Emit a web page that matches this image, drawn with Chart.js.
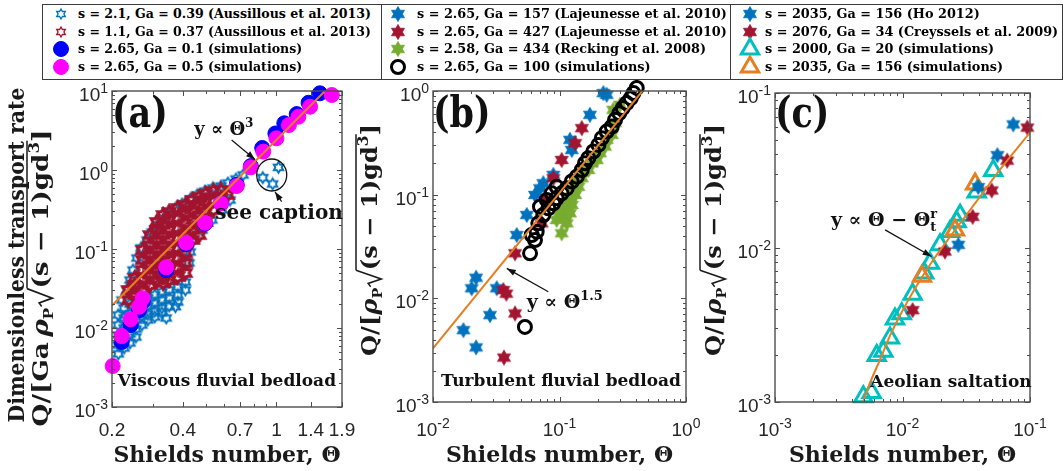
<!DOCTYPE html>
<html>
<head>
<meta charset="utf-8">
<script src="https://cdn.jsdelivr.net/npm/chart.js@4.4.1/dist/chart.umd.min.js"></script>
<style>
  html, body { margin: 0; padding: 0; background: #fff; }
  #fig { position: relative; width: 1064px; height: 471px; overflow: hidden; background: #fff; }
  #fig canvas.panel { position: absolute; top: 80px; }
  .lbox { position: absolute; top: 4px; height: 76px; border: 1.5px solid #3c3c3c; box-sizing: border-box; }
  .ltext { position: absolute; white-space: nowrap; font: bold 13px "DejaVu Serif", serif; line-height: 16px; color: #000; transform-origin: 0 50%; }
  .lmark { position: absolute; }
</style>
</head>
<body>
<div id="fig">
  <canvas id="panelA" class="panel" width="365" height="391" style="left:0px"></canvas>
  <canvas id="panelB" class="panel" width="365" height="391" style="left:350px"></canvas>
  <canvas id="panelC" class="panel" width="374" height="391" style="left:690px"></canvas>
</div>
<script>
// ===================== DATA (a) viscous fluvial bedload =====================
// Aussillous et al. 2013, s = 2.1, Ga = 0.39 (open blue hexagrams)
const aussillous21 = [
  [0.2455,0.0542],[0.2385,0.0405],[0.2316,0.0303],[0.2553,0.0769],[0.2655,0.103],[0.2818,0.130],
  [0.296,0.164],[0.314,0.201],[0.330,0.240],[0.349,0.277],[0.370,0.321],[0.397,0.371],[0.430,0.430],
  [0.460,0.483],[0.497,0.542],[0.537,0.592],[0.581,0.627],[0.622,0.684],[0.673,0.769],[0.721,0.865],
  [0.635,0.417],[0.588,0.312],[0.532,0.233],[0.483,0.174],[0.438,0.130],[0.430,0.0917],[0.425,0.0665],
  [1.02,1.08],[0.875,0.80],[0.964,0.665],
  [0.2123,0.01462],[0.2123,0.01091],[0.2123,0.00815],[0.2123,0.00609],[0.2127,0.0047],
  [0.225,0.0179],[0.225,0.0134],[0.225,0.0100],[0.225,0.00747],[0.225,0.00558],[0.2205,0.0226],
  [0.2385,0.0201],[0.2385,0.01503],[0.2385,0.01124],[0.2385,0.0084],[0.2385,0.00646],
  [0.2528,0.0213],[0.2528,0.0164],[0.2528,0.01263],[0.2528,0.0097],[0.2528,0.00769],
  [0.268,0.0226],[0.268,0.0179],[0.268,0.01418],[0.268,0.01091],
  [0.284,0.024],[0.284,0.019],[0.284,0.01503],[0.284,0.01263],
  [0.304,0.0262],[0.304,0.0207],[0.304,0.0164],[0.304,0.01378],
  [0.326,0.0286],[0.326,0.0226],[0.326,0.0179],[0.326,0.0155],
  [0.350,0.0303],[0.350,0.024],[0.350,0.019],[0.340,0.0134],[0.372,0.0186],
  [0.381,0.033],[0.381,0.0262],[0.381,0.0213],[0.410,0.0382],[0.410,0.0303]
];
// Aussillous et al. 2013, s = 1.1, Ga = 0.37 (open red hexagrams)
const aussillous11 = [
  [0.235,0.0303],[0.235,0.0226],
  [0.25,0.043],[0.25,0.035],[0.25,0.0262],
  [0.27,0.097],[0.27,0.0726],[0.27,0.0542],[0.27,0.0405],[0.27,0.0303],
  [0.29,0.150],[0.29,0.112],[0.29,0.0839],[0.29,0.0627],[0.29,0.0469],[0.29,0.035],
  [0.31,0.22],[0.31,0.174],[0.31,0.130],[0.31,0.097],[0.31,0.0726],[0.31,0.0542],[0.31,0.0405],
  [0.33,0.269],[0.33,0.201],[0.33,0.150],[0.33,0.112],[0.33,0.0839],[0.33,0.0627],[0.33,0.0469],[0.33,0.0372],
  [0.35,0.294],[0.35,0.233],[0.35,0.174],[0.35,0.130],[0.35,0.097],[0.35,0.0726],[0.35,0.0542],[0.35,0.0405],
  [0.38,0.33],[0.38,0.247],[0.38,0.184],[0.38,0.138],[0.38,0.103],[0.38,0.0769],[0.38,0.0574],[0.38,0.0442],
  [0.41,0.36],[0.41,0.286],[0.41,0.213],[0.41,0.159],[0.41,0.119],[0.41,0.0889],[0.41,0.0665],[0.41,0.0497],
  [0.44,0.417],[0.44,0.312],[0.44,0.233],[0.44,0.174],[0.44,0.130],
  [0.47,0.455],[0.47,0.36],[0.47,0.269],[0.47,0.201],[0.47,0.150],
  [0.50,0.497],[0.50,0.393],[0.50,0.294],[0.50,0.22],
  [0.54,0.542],[0.54,0.417],[0.54,0.312],
  [0.58,0.558],[0.58,0.43],
  [0.62,0.483]
];
// simulations s = 2.65, Ga = 0.1
const simGa01 = [
  [0.22,0.00665],[0.24,0.0109],[0.261,0.0169],[0.27,0.0214],[0.34,0.054],[0.413,0.115],[0.497,0.21],
  [0.581,0.38],[0.678,0.65],[0.778,1.12],[0.87,1.9],[0.99,2.9],[1.08,3.9],[1.22,5.1],[1.37,7.1],[1.53,9.35]
];
// simulations s = 2.65, Ga = 0.5
const simGa05 = [
  [0.2013,0.0033],[0.22,0.0079],[0.24,0.0129],[0.261,0.0186],[0.27,0.0238],[0.34,0.0586],[0.413,0.120],
  [0.497,0.215],[0.581,0.378],[0.678,0.627],[0.778,1.08],[0.879,1.71],[1.0,2.52],[1.13,3.71],[1.24,4.73],
  [1.39,6.32],[1.72,8.9]
];
const fitA = [[0.2, 0.0193], [1.64, 10.6]];          // y ~ Theta^3
const xTicksA = [0.2, 0.4, 0.7, 1, 1.4, 1.9];
const xTickTextA = ['0.2', '0.4', '0.7', '1', '1.4', '1.9'];
const yDecA = [-3, -2, -1, 0, 1];

// ===================== DATA (b) turbulent fluvial bedload =====================
const lajeunesse157 = [
  [0.222,0.954],[0.236,0.919],[0.174,0.589],[0.121,0.338],[0.125,0.270],[0.0894,0.155],[0.0744,0.129],
  [0.0701,0.115],[0.064,0.0993],[0.0551,0.0637],[0.0459,0.0408],[0.0219,0.0158],[0.0202,0.0125],
  [0.0319,0.0125],[0.0282,0.00688],[0.0174,0.00493],[0.0219,0.00336]
];
const lajeunesse427 = [
  [0.150,0.438],[0.133,0.314],[0.104,0.216],[0.0894,0.144],[0.0793,0.0889],[0.0722,0.0529],[0.0445,0.0272],
  [0.036,0.012],[0.038,0.0111],[0.0445,0.00714],[0.0364,0.00268]
];
const recking = [
  [0.104,0.0424],[0.095,0.057],[0.107,0.0613],[0.101,0.0685],[0.114,0.0711],[0.110,0.0826],[0.125,0.0795],
  [0.121,0.0957],[0.133,0.0993],[0.129,0.115],[0.141,0.119],[0.137,0.139],[0.150,0.144],[0.154,0.167],
  [0.169,0.173],[0.180,0.201],[0.197,0.216],[0.209,0.251],[0.191,0.233],[0.229,0.291],[0.236,0.338],
  [0.259,0.377],[0.275,0.490],[0.266,0.658],[0.301,0.735],[0.114,0.0529],[0.121,0.0661]
];
const simGa100 = [
  [0.0585,0.0272],[0.0603,0.0408],[0.064,0.0365],[0.066,0.044],[0.068,0.0529],[0.0701,0.0766],[0.0744,0.0637],
  [0.0793,0.0889],[0.0816,0.0738],[0.0867,0.103],[0.0894,0.0826],[0.095,0.0923],[0.095,0.119],[0.104,0.103],
  [0.114,0.115],[0.125,0.134],[0.137,0.149],[0.150,0.173],[0.159,0.201],[0.169,0.225],[0.185,0.261],
  [0.203,0.302],[0.216,0.351],[0.236,0.406],[0.259,0.454],[0.275,0.527],[0.297,0.611],[0.316,0.684],
  [0.340,0.764],[0.366,0.853],[0.384,0.954],[0.408,1.07],[0.0533,0.0053]
];
const fitB = [[0.01, 0.0033], [0.47, 1.06]];         // y ~ Theta^1.5
const yDecB = [-3, -2, -1, 0];
const xDecB = [-2, -1, 0];

// ===================== DATA (c) aeolian saltation =====================
const ho2012 = [[0.0739,0.0626],[0.0555,0.0396],[0.0393,0.0246],[0.0274,0.0104]];
const creyssels = [[0.0953,0.0597],[0.0663,0.0365],[0.0501,0.0234],[0.0355,0.0158],[0.0215,0.00942],[0.0120,0.00393]];
const simS2000 = [
  [0.00493,0.00108],[0.00573,0.00115],[0.00628,0.0020],[0.00708,0.00213],[0.00798,0.0026],[0.00873,0.00344],
  [0.00986,0.00373],[0.0120,0.00498],[0.0148,0.00684],[0.0164,0.00792],[0.0197,0.0104],[0.0236,0.0127],
  [0.0266,0.0147],[0.0283,0.0162],[0.0382,0.0229],[0.0515,0.0315]
];
const simS2035 = [[0.0371,0.0258],[0.0258,0.0130],[0.0142,0.00652]];
const fitC = [[0.0049,0.001],[0.0055,0.0013],[0.0067,0.0019],[0.008,0.0027],[0.01,0.0039],[0.0135,0.006],
  [0.0174,0.0083],[0.025,0.0125],[0.04,0.021],[0.06,0.033],[0.1,0.0555]];   // y ~ Theta - Theta_t^r
const yDecC = [-3, -2, -1];
const xDecC = [-3, -2, -1];

// ===================== styles =====================
const SERIF = '"DejaVu Serif", "Liberation Serif", serif';
const SANS = '"Liberation Sans", Arial, Helvetica, sans-serif';
const AXIS = '#4d4d4d';
const TXT = '#262626';
const C_BLUE = '#0072BD', C_RED = '#A2142F', C_GREEN = '#77AC30';
const C_ORANGE = '#E67E22', C_CYAN = '#00BFBF';

function hexagram(color, r, filled, lw) {
  const s = Math.ceil(2 * r + lw + 2);
  const c = document.createElement('canvas');
  c.width = c.height = s;
  const g = c.getContext('2d');
  g.translate(s / 2, s / 2);
  g.beginPath();
  for (let i = 0; i < 12; i++) {
    const a = -Math.PI / 2 + i * Math.PI / 6;
    const rr = i % 2 ? r / Math.sqrt(3) : r;
    g.lineTo(rr * Math.cos(a), rr * Math.sin(a));
  }
  g.closePath();
  if (filled) { g.fillStyle = color; g.fill(); }
  g.lineJoin = 'miter';
  g.lineWidth = lw; g.strokeStyle = color; g.stroke();
  return c;
}

const openStarBlue = hexagram(C_BLUE, 5.5, false, 1.8);
const openStarRed = hexagram(C_RED, 6.5, false, 3);
const legendStarBlue = hexagram(C_BLUE, 5, false, 1.3);
const legendStarRed = hexagram(C_RED, 5, false, 1.3);
const starBlue = hexagram(C_BLUE, 7.5, true, 0.8);
const starRed = hexagram(C_RED, 7.5, true, 0.8);
const starGreen = hexagram(C_GREEN, 7.5, true, 0.8);

const starSet = (label, data, img, order, legendImg) => ({ label, data, pointStyle: img, pointRadius: 7, clip: false, order, legendImg });
const circleSet = (label, data, color, filled, r, lw, order) => ({
  label, data, pointStyle: 'circle', pointRadius: r, pointBorderWidth: lw,
  pointBackgroundColor: filled ? color : 'rgba(0,0,0,0)', pointBorderColor: color, clip: false, order
});
const triSet = (label, data, color, order) => ({
  label, data, pointStyle: 'triangle', pointRadius: 10, pointBorderWidth: 3,
  pointBackgroundColor: 'rgba(0,0,0,0)', pointBorderColor: color, clip: false, order
});
const fitSet = (data, smooth) => ({
  data, showLine: true, borderColor: C_ORANGE, borderWidth: 2, pointRadius: 0,
  cubicInterpolationMode: smooth ? 'monotone' : 'default', order: 0, isFit: true
});

// ===================== drawing helpers =====================
function minorTicks(min, max, majors) {
  const out = [];
  for (let d = Math.floor(Math.log10(min)); d <= Math.ceil(Math.log10(max)); d++) {
    for (let k = 1; k <= 9; k++) {
      const v = k * Math.pow(10, d);
      if (v >= min * 0.999 && v <= max * 1.001 && !majors.some(m => Math.abs(m - v) / v < 1e-6)) out.push(v);
    }
  }
  return out;
}

function powLabel(ctx, exp, x, y, align) {
  const base = '10', sup = String(exp);
  ctx.font = `19px ${SANS}`; const wb = ctx.measureText(base).width;
  ctx.font = `14px ${SANS}`; const ws = ctx.measureText(sup).width;
  const x0 = align === 'right' ? x - wb - ws : x - (wb + ws) / 2;
  ctx.textAlign = 'left'; ctx.textBaseline = 'alphabetic';
  ctx.font = `19px ${SANS}`; ctx.fillText(base, x0, y);
  ctx.font = `14px ${SANS}`; ctx.fillText(sup, x0 + wb, y - 8);
}

// rich text: runs of {t, s, dy, it, over, stack} or {sqrt, w, h}
function drawRuns(ctx, runs, x, y, size, align, fit) {
  const font = r => `${r.it ? 'italic ' : ''}bold ${r.s || size}px ${SERIF}`;
  const wid = runs.map(r => { if (r.sqrt) return r.w; ctx.font = font(r); return ctx.measureText(r.t).width; });
  const adv = runs.map((r, i) => r.stack ? 0 : wid[i]);
  const total = adv.reduce((s, v) => s + v, 0);
  const k = fit ? fit / total : 1;
  ctx.save();
  ctx.translate(x, y);
  ctx.scale(k, 1);
  let cx = align === 'center' ? -total / 2 : align === 'right' ? -total : 0;
  ctx.textAlign = 'left'; ctx.textBaseline = 'alphabetic';
  let o0 = null, o1 = null, oy = 0;
  runs.forEach((r, i) => {
    if (r.sqrt) {
      ctx.beginPath(); ctx.lineWidth = 1.5; ctx.strokeStyle = ctx.fillStyle;
      ctx.moveTo(cx + 1, -0.3 * r.h); ctx.lineTo(cx + 4, -0.42 * r.h);
      ctx.lineTo(cx + 0.5 * r.w, 0.2 * r.h); ctx.lineTo(cx + r.w, -r.h);
      ctx.stroke();
      o0 = cx + r.w; oy = -r.h;
    } else {
      ctx.font = font(r); ctx.fillText(r.t, cx, r.dy || 0);
      if (r.over) o1 = cx + wid[i];
    }
    cx += adv[i];
  });
  if (o0 !== null && o1 !== null) {
    ctx.beginPath(); ctx.moveTo(o0, oy); ctx.lineTo(o1 + 1, oy); ctx.stroke();
  }
  ctx.restore();
}

function arrow(ctx, x1, y1, x2, y2) {
  ctx.lineWidth = 1.2;
  ctx.beginPath(); ctx.moveTo(x1, y1); ctx.lineTo(x2, y2); ctx.stroke();
  const a = Math.atan2(y2 - y1, x2 - x1), L = 9, W = 3.2;
  ctx.beginPath(); ctx.moveTo(x2, y2);
  ctx.lineTo(x2 - L * Math.cos(a) + W * Math.sin(a), y2 - L * Math.sin(a) - W * Math.cos(a));
  ctx.lineTo(x2 - L * Math.cos(a) - W * Math.sin(a), y2 - L * Math.sin(a) + W * Math.cos(a));
  ctx.closePath(); ctx.fill();
}

const qTitle = ga => [
  { t: ga ? 'Q/[Ga\u2009' : 'Q/[' },
  { t: 'ρ', it: true },
  { t: 'P', s: 13, dy: 5 },
  { sqrt: true, w: 16, h: 21 },
  { t: '(s − 1)gd', over: true },
  { t: '3', s: 14, dy: -9, over: true },
  { t: ']' }
];

function makeFrame(cfg) {
  return {
    id: 'frame',
    afterDraw(chart) {
      const ctx = chart.ctx, a = chart.chartArea;
      const xs = chart.scales.x, ys = chart.scales.y;
      const P = (x, y) => [xs.getPixelForValue(x), ys.getPixelForValue(y)];
      ctx.save();
      // box and inward ticks
      ctx.strokeStyle = AXIS; ctx.lineWidth = 1;
      const seg = (x1, y1, x2, y2) => { ctx.beginPath(); ctx.moveTo(x1, y1); ctx.lineTo(x2, y2); ctx.stroke(); };
      const yMaj = cfg.yDec.map(d => Math.pow(10, d));
      const xMin = minorTicks(xs.min, xs.max, cfg.xMajor), yMin = minorTicks(ys.min, ys.max, yMaj);
      [[cfg.xMajor, 5], [xMin, 3]].forEach(([vals, L]) => vals.forEach(v => {
        const p = Math.round(xs.getPixelForValue(v)) + 0.5;
        seg(p, a.bottom, p, a.bottom - L); seg(p, a.top, p, a.top + L);
      }));
      [[yMaj, 5], [yMin, 3]].forEach(([vals, L]) => vals.forEach(v => {
        const p = Math.round(ys.getPixelForValue(v)) + 0.5;
        seg(a.left, p, a.left + L, p); seg(a.right, p, a.right - L, p);
      }));
      ctx.lineWidth = 1.4;
      ctx.strokeRect(a.left, a.top, a.right - a.left, a.bottom - a.top);

      // tick labels
      ctx.fillStyle = TXT;
      cfg.yDec.forEach(d => powLabel(ctx, d, a.left - 4, ys.getPixelForValue(Math.pow(10, d)) + 10, 'right'));
      if (cfg.xText) {
        ctx.font = `19px ${SANS}`; ctx.textAlign = 'center'; ctx.textBaseline = 'alphabetic';
        cfg.xMajor.forEach((v, i) => ctx.fillText(cfg.xText[i], xs.getPixelForValue(v), 356));
      } else {
        cfg.xDec.forEach(d => powLabel(ctx, d, xs.getPixelForValue(Math.pow(10, d)), 356, 'center'));
      }

      // axis titles
      ctx.fillStyle = '#1a1a1a'; ctx.strokeStyle = '#1a1a1a';
      drawRuns(ctx, [{ t: 'Shields number, Θ' }], (a.left + a.right) / 2, 382, 22, 'center');
      cfg.yTitles.forEach(tl => {
        ctx.save(); ctx.translate(tl.x, tl.y); ctx.rotate(-Math.PI / 2);
        drawRuns(ctx, tl.runs, 0, 0, 22, 'center', tl.fit);
        ctx.restore();
      });

      // panel tag
      ctx.save(); ctx.translate(a.left, 47); ctx.scale(1, 1.22);
      ctx.font = `bold 35px ${SERIF}`; ctx.textAlign = 'left'; ctx.fillStyle = '#111';
      ctx.fillText(cfg.tag, 0, 0);
      ctx.restore();

      // annotations
      ctx.fillStyle = '#111'; ctx.strokeStyle = '#111';
      cfg.notes.forEach(n => {
        if (n.text) {
          const [px, py] = P(n.at[0], n.at[1]);
          drawRuns(ctx, n.text, px, py + 0.32 * n.size, n.size, 'center');
        } else if (n.arrow) {
          const [x1, y1] = P(n.arrow[0][0], n.arrow[0][1]);
          const [x2, y2] = P(n.arrow[1][0], n.arrow[1][1]);
          arrow(ctx, x1, y1, x2, y2);
        } else if (n.ellipse) {
          const [px, py] = P(n.ellipse[0], n.ellipse[1]);
          ctx.lineWidth = 1.3; ctx.beginPath();
          ctx.ellipse(px, py, n.rx, n.ry, 0, 0, 2 * Math.PI); ctx.stroke();
        }
      });
      ctx.restore();
    }
  };
}

function panel(id, cfg, datasets) {
  return new Chart(document.getElementById(id), {
    type: 'scatter',
    data: { datasets },
    options: {
      responsive: false, animation: false, events: [],
      layout: { padding: cfg.pad },
      plugins: { legend: { display: false }, tooltip: { enabled: false } },
      scales: {
        x: {
          type: 'logarithmic', min: cfg.xMin, max: cfg.xMax,
          grid: { display: false }, border: { display: false }, ticks: { display: false },
          afterFit: s => { s.height = cfg.xAxisH; }
        },
        y: {
          type: 'logarithmic', min: cfg.yMin, max: cfg.yMax,
          grid: { display: false }, border: { display: false }, ticks: { display: false },
          afterFit: s => { s.width = cfg.yAxisW; }
        }
      }
    },
    plugins: [makeFrame(cfg)]
  });
}

// ===================== panels =====================
const chartA = panel('panelA', {
  pad: { top: 11, right: 23, left: 0, bottom: 0 }, xAxisH: 64, yAxisW: 112,
  xMin: 0.2, xMax: 1.9, yMin: 1e-3, yMax: 10,
  xMajor: xTicksA, xText: xTickTextA, yDec: yDecA, tag: '(a)',
  yTitles: [
    { runs: [{ t: 'Dimensionless transport rate' }], x: 24, y: 175, fit: 335 },
    { runs: qTitle(true), x: 48, y: 198, fit: 297 }
  ],
  notes: [
    { text: [{ t: 'y ∝ Θ' }, { t: '3', s: 12, dy: -8 }], size: 18, at: [0.598, 3.3] },
    { arrow: [[0.645, 2.4], [0.811, 1.36]] },
    { ellipse: [0.955, 0.865], rx: 15, ry: 16 },
    { text: [{ t: 'see caption' }], size: 20, at: [1.026, 0.286] },
    { arrow: [[1.053, 0.397], [0.986, 0.531]] },
    { text: [{ t: 'Viscous fluvial bedload' }], size: 17, at: [0.616, 0.00213] }
  ]
}, [
  starSet('s = 2.1, Ga = 0.39 (Aussillous et al. 2013)', aussillous21, openStarBlue, 4, legendStarBlue),
  starSet('s = 1.1, Ga = 0.37 (Aussillous et al. 2013)', aussillous11, openStarRed, 3, legendStarRed),
  circleSet('s = 2.65, Ga = 0.1 (simulations)', simGa01, '#0000FF', true, 7.5, 1, 2),
  circleSet('s = 2.65, Ga = 0.5 (simulations)', simGa05, '#FF00FF', true, 7.5, 1, 1),
  fitSet(fitA, false)
]);

const chartB = panel('panelB', {
  pad: { top: 11, right: 29, left: 0, bottom: 0 }, xAxisH: 69, yAxisW: 83,
  xMin: 0.01, xMax: 1, yMin: 1e-3, yMax: 1,
  xMajor: xDecB.map(d => Math.pow(10, d)), xDec: xDecB, yDec: yDecB, tag: '(b)',
  yTitles: [{ runs: qTitle(false), x: 27, y: 160, fit: 232 }],
  notes: [
    { text: [{ t: 'y ∝ Θ' }, { t: '1.5', s: 13, dy: -8 }], size: 19, at: [0.110, 0.00919] },
    { arrow: [[0.0816, 0.01155], [0.0383, 0.01945]] },
    { text: [{ t: 'Turbulent fluvial bedload' }], size: 17, at: [0.1028, 0.00162] }
  ]
}, [
  starSet('s = 2.65, Ga = 157 (Lajeunesse et al. 2010)', lajeunesse157, starBlue, 4),
  starSet('s = 2.65, Ga = 427 (Lajeunesse et al. 2010)', lajeunesse427, starRed, 3),
  starSet('s = 2.58, Ga = 434 (Recking et al. 2008)', recking, starGreen, 2),
  circleSet('s = 2.65, Ga = 100 (simulations)', simGa100, '#000000', false, 6.5, 3, 1),
  fitSet(fitB, false)
]);

const chartC = panel('panelC', {
  pad: { top: 10, right: 34, left: 0, bottom: 0 }, xAxisH: 69, yAxisW: 85,
  xMin: 0.001, xMax: 0.1, yMin: 1e-3, yMax: 0.1,
  xMajor: xDecC.map(d => Math.pow(10, d)), xDec: xDecC, yDec: yDecC, tag: '(c)',
  yTitles: [{ runs: qTitle(false), x: 31, y: 160, fit: 232 }],
  notes: [
    { text: [{ t: 'y ∝ Θ − Θ' }, { t: 't', s: 13, dy: 5, stack: true }, { t: 'r', s: 13, dy: -8 }], size: 19, at: [0.00716, 0.0151] },
    { arrow: [[0.0073, 0.0130], [0.01694, 0.00875]] },
    { text: [{ t: 'Aeolian saltation' }], size: 17, at: [0.024, 0.00136] }
  ]
}, [
  starSet('s = 2035, Ga = 156 (Ho 2012)', ho2012, starBlue, 2),
  starSet('s = 2076, Ga = 34 (Creyssels et al. 2009)', creyssels, starRed, 1),
  triSet('s = 2000, Ga = 20 (simulations)', simS2000, C_CYAN, 4),
  triSet('s = 2035, Ga = 156 (simulations)', simS2035, C_ORANGE, 3),
  fitSet(fitC, true)
]);

// ===================== HTML legend built from the datasets =====================
function legendMarker(ds) {
  const c = document.createElement('canvas');
  c.width = c.height = 26; c.className = 'lmark';
  const g = c.getContext('2d');
  const st = ds.legendImg || ds.pointStyle;
  if (st instanceof HTMLCanvasElement) {
    g.drawImage(st, 13 - st.width / 2, 13 - st.height / 2);
  } else {
    g.beginPath();
    const r = ds.pointRadius;
    if (st === 'circle') g.arc(13, 13, r, 0, 2 * Math.PI);
    else { for (let i = 0; i < 3; i++) { const t = i * 2 * Math.PI / 3; g.lineTo(13 + Math.sin(t) * r, 13 - Math.cos(t) * r); } g.closePath(); }
    if (ds.pointBackgroundColor !== 'rgba(0,0,0,0)') { g.fillStyle = ds.pointBackgroundColor; g.fill(); }
    g.lineWidth = ds.pointBorderWidth; g.strokeStyle = ds.pointBorderColor; g.stroke();
  }
  return c;
}

const fig = document.getElementById('fig');
const measure = document.createElement('canvas').getContext('2d');
measure.font = `bold 13px ${SERIF}`;
const rowY = [14, 32, 49, 67];
[
  { chart: chartA, left: 42, right: 382, mx: 61, tx: 78, end: 371 },
  { chart: chartB, left: 381, right: 731, mx: 398, tx: 417, end: 727 },
  { chart: chartC, left: 730, right: 1063, mx: 750, tx: 765, end: 1058 }
].forEach(col => {
  const box = document.createElement('div');
  box.className = 'lbox';
  box.style.left = col.left + 'px'; box.style.width = (col.right - col.left) + 'px';
  fig.appendChild(box);
  const items = col.chart.data.datasets.filter(d => !d.isFit);
  const maxW = Math.max(...items.map(d => measure.measureText(d.label).width));
  const k = (col.end - col.tx) / maxW;
  items.forEach((ds, i) => {
    const m = legendMarker(ds);
    m.style.left = (col.mx - 13) + 'px'; m.style.top = (rowY[i] - 13) + 'px';
    fig.appendChild(m);
    const t = document.createElement('div');
    t.className = 'ltext';
    t.textContent = ds.label;
    t.style.left = col.tx + 'px'; t.style.top = (rowY[i] - 8) + 'px';
    t.style.transform = `scaleX(${k.toFixed(3)})`;
    fig.appendChild(t);
  });
});
</script>
</body>
</html>
